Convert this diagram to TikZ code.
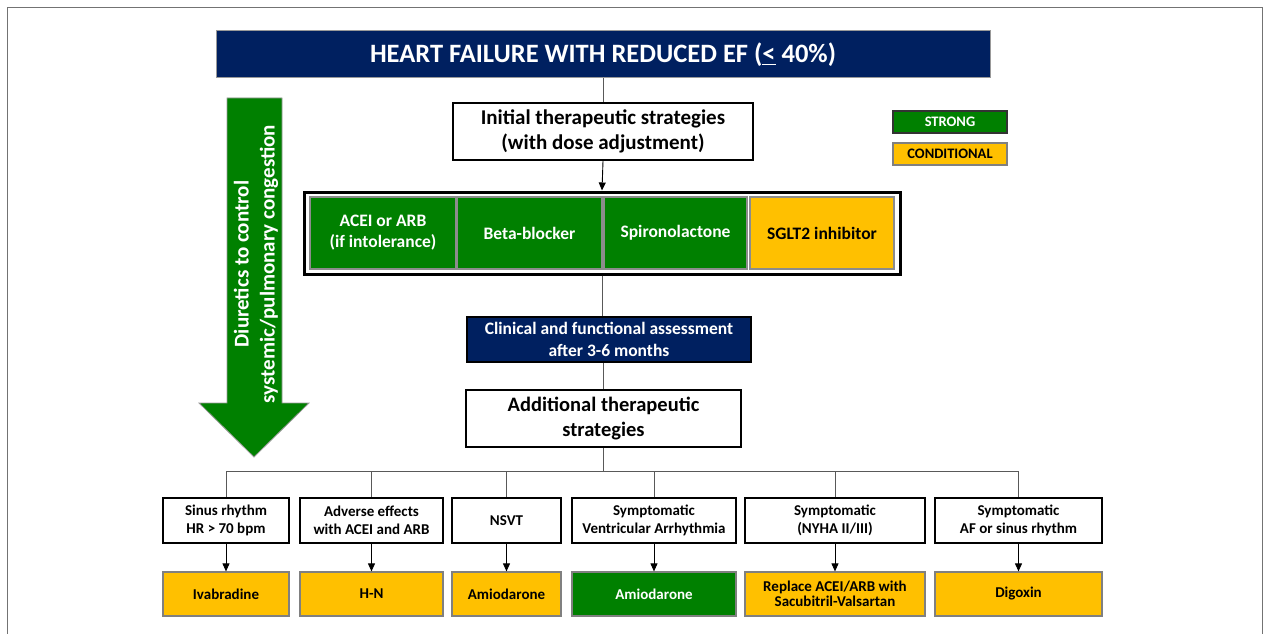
\documentclass[tikz,border=0pt]{standalone}
\usepackage{fontspec}
\setmainfont{Carlito}
\usetikzlibrary{arrows.meta,calc}
\definecolor{navy}{HTML}{002060}
\definecolor{hgreen}{HTML}{008000}
\definecolor{hyellow}{HTML}{FFC000}
\tikzset{
  box/.style={inner sep=0pt, align=center, font=\bfseries},
  whitebox/.style={box, draw=black, line width=2.2pt, fill=white},
  navybox/.style={box, fill=navy, text=white},
  cell/.style={box, draw=black!45, line width=1.2pt, minimum height=72pt, font=\bfseries\fontsize{17.5}{21}\selectfont},
  outbox/.style={box, draw=black!50, line width=1.2pt, minimum height=44pt, font=\bfseries\fontsize{15}{15.5}\selectfont},
  condbox/.style={whitebox, line width=2pt, minimum height=45pt, font=\bfseries\fontsize{15}{18}\selectfont},
  legend/.style={box, line width=1.2pt, minimum width=114pt, minimum height=22pt, font=\bfseries\fontsize{14.5}{16}\selectfont},
  conn/.style={draw=black!65, line width=0.9pt},
  arr/.style={draw=black, line width=0.9pt, -{Triangle[length=8pt,width=7pt]}},
}
\begin{document}
\begin{tikzpicture}[x=1pt,y=-1pt]
\useasboundingbox (0,0) rectangle (1267,634);
% outer frame
\draw[black!55, line width=1pt] (7,640) -- (7,8) -- (1262,8) -- (1262,640);

% title
\node[navybox, draw=black!40, line width=1pt, minimum width=774pt, minimum height=47pt,
      font=\bfseries\fontsize{26.5}{30}\selectfont] (title) at (603,54.5)
  {HEART FAILURE WITH REDUCED EF (\underline{<} 40\%)};

% initial strategies
\node[whitebox, minimum width=300pt, minimum height=57pt,
      font=\bfseries\fontsize{21}{25}\selectfont] (init) at (603,131.5)
  {Initial therapeutic strategies\\(with dose adjustment)};

% legend
\node[legend, fill=hgreen, draw=black!80, text=white] (strong) at (950,122) {STRONG};
\node[legend, fill=hyellow, draw=black!50] (condl) at (950,154) {CONDITIONAL};

% drug group
\node[draw=black, line width=3pt, minimum width=596pt, minimum height=82pt, inner sep=0pt] (group) at (602,233) {};
\node[cell, fill=hgreen, text=white, minimum width=146pt] (d1) at (383,233) {ACEI or ARB\\(if intolerance)};
\node[cell, fill=hgreen, text=white, minimum width=145pt] (d2) at (529.5,233) {Beta-blocker};
\node[cell, fill=hgreen, text=white, minimum width=143pt] (d3) at (675.5,233) {Spironolactone};
\node[cell, fill=hyellow, text=black, minimum width=144pt] (d4) at (822,233) {SGLT2 inhibitor};

% clinical assessment
\node[navybox, draw=black, line width=2pt, minimum width=284pt, minimum height=45pt,
      font=\bfseries\fontsize{17.5}{22}\selectfont] (clin) at (609,339.5)
  {Clinical and functional assessment\\after 3-6 months};

% additional
\node[whitebox, line width=2pt, minimum width=275pt, minimum height=57pt,
      font=\bfseries\fontsize{20.5}{25}\selectfont] (add) at (603.5,418.5)
  {Additional therapeutic\\strategies};

% big green arrow
\draw[fill=hgreen, draw=black!40, line width=0.8pt]
  (227,98) -- (282,98) -- (282,403) -- (309,403) -- (254,457) -- (199,403) -- (227,403) -- cycle;
\node[box, text=white, rotate=90, font=\bfseries\fontsize{21}{26}\selectfont] (diur) at (256,264)
  {Diuretics to control\\systemic/pulmonary congestion};

% condition boxes
\node[condbox, minimum width=126pt] (k1) at (226,520.5) {Sinus rhythm\\HR > 70 bpm};
\node[condbox, minimum width=143pt] (k2) at (371.5,520.5) {Adverse effects\\with ACEI and ARB};
\node[condbox, minimum width=109pt] (k3) at (506.5,520.5) {NSVT};
\node[condbox, minimum width=164pt] (k4) at (654,520.5) {Symptomatic\\Ventricular Arrhythmia};
\node[condbox, minimum width=180pt] (k5) at (835,520.5) {Symptomatic\\(NYHA II/III)};
\node[condbox, minimum width=167pt] (k6) at (1018.5,520.5) {Symptomatic\\AF or sinus rhythm};

% outcome boxes
\node[outbox, fill=hyellow, minimum width=126pt] (o1) at (226,594) {Ivabradine};
\node[outbox, fill=hyellow, minimum width=143pt] (o2) at (371.5,594) {H-N};
\node[outbox, fill=hyellow, minimum width=109pt] (o3) at (506.5,594) {Amiodarone};
\node[outbox, fill=hgreen, text=white, minimum width=164pt] (o4) at (654,594) {Amiodarone};
\node[outbox, fill=hyellow, minimum width=180pt] (o5) at (835,594) {Replace ACEI/ARB with\\Sacubitril-Valsartan};
\node[outbox, fill=hyellow, minimum width=167pt] (o6) at (1018.5,594) {Digoxin};

% connectors
\coordinate (bus) at (0,471);
\draw[conn] (title.south -| init.north) -- (init.north);
\draw[arr] (init.south) -- (group.north);
\draw[conn] (group.south) -- (group.south |- clin.north);
\draw[conn] (add.north |- clin.south) -- (add.north);
\draw[conn] (add.south) -- (add.south |- bus);
\draw[conn] (k1.north |- bus) -- (k6.north |- bus);
\foreach \i in {1,...,6}{
  \draw[conn] (k\i.north |- bus) -- (k\i.north);
  \draw[arr] (k\i.south) -- (o\i.north);
}
\end{tikzpicture}
\end{document}
